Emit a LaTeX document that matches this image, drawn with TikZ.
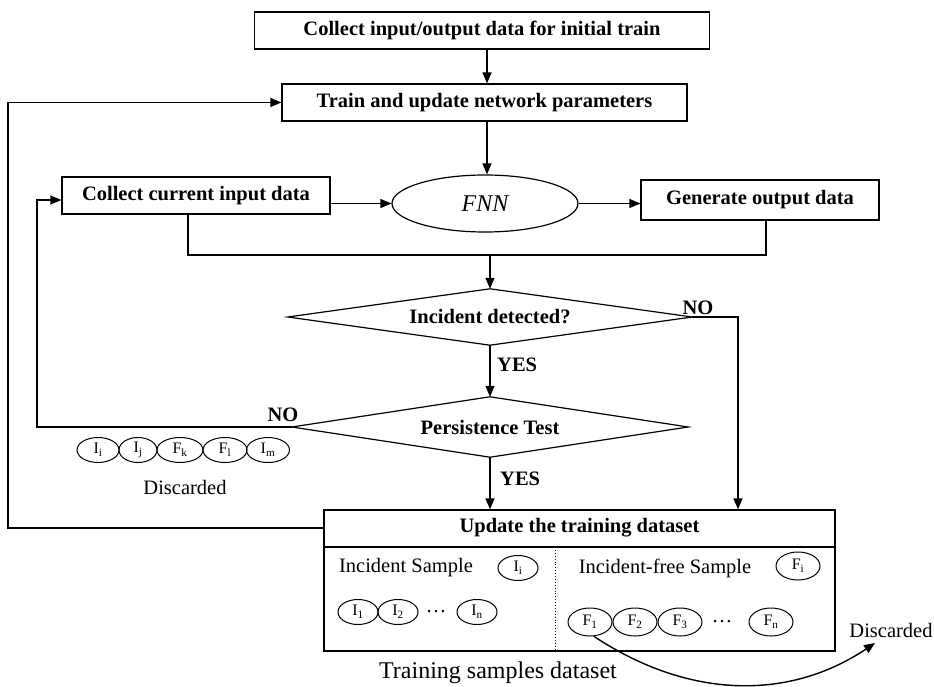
\documentclass[tikz,border=0pt]{standalone}
\usepackage{fontspec}
\setmainfont{Liberation Serif}
\usetikzlibrary{shapes.geometric,arrows.meta}
\newcommand\mybf{\fontsize{20.5}{24}\selectfont\bfseries}
\newcommand\myrm{\fontsize{20.5}{24}\selectfont}
\newcommand\mysm{\fontsize{16}{16}\selectfont}
\begin{document}
\begin{tikzpicture}[x=1pt,y=-1pt,
  box/.style={draw, rectangle, line width=1.2pt, inner sep=0pt, font=\mybf},
  dec/.style={rectangle, inner sep=0pt, font=\mybf},
  decline/.style={line width=1.2pt, line join=miter},
  lbl/.style={inner sep=0pt, font=\mybf},
  txt/.style={inner sep=0pt, font=\myrm},
  smp/.style={draw, ellipse, line width=1pt, inner sep=0pt, minimum width=42pt, minimum height=25pt, font=\mysm},
  fsmp/.style={smp, minimum width=44pt, minimum height=28pt},
  ln/.style={line width=1.2pt},
  arr/.style={line width=1.2pt, -{Triangle[length=11pt,width=9pt]}}]
\useasboundingbox (0,0) rectangle (934,687);

% boxes
\node[box, minimum width=455pt, minimum height=37pt] (b1) at (482,30.5) {Collect input/output data for initial train};
\node[box, minimum width=405pt, minimum height=37pt] (b2) at (484.5,102.5) {Train and update network parameters};
\node[box, minimum width=268pt, minimum height=37pt] (b3) at (196,195.5) {Collect current input data};
\node[draw, ellipse, line width=1.2pt, minimum width=186pt, minimum height=57pt, inner sep=0pt, font=\fontsize{24}{24}\selectfont\itshape] (fnn) at (485,203.5) {FNN};
\node[box, minimum width=238pt, minimum height=40pt] (b4) at (760,200) {Generate output data};

% decisions
\node[dec, minimum width=404pt, minimum height=56pt] (d1) at (490,317) {Incident detected?};
\draw[decline] (d1.west) -- (d1.north) -- (d1.east) -- (d1.south) -- cycle;
\node[dec, minimum width=396pt, minimum height=60pt] (d2) at (490,427) {Persistence Test};
\draw[decline] (d2.west) -- (d2.north) -- (d2.east) -- (d2.south) -- cycle;

% update box
\node[draw, rectangle, line width=1.2pt, minimum width=511pt, minimum height=141pt, inner sep=0pt] (upd) at (579.5,580.5) {};
\node[lbl] (hdr) at (579.5,528) {Update the training dataset};
\draw[ln] (upd.west |- 0,547) -- (upd.east |- 0,547);
\draw[dotted, line width=0.9pt] (555,547) -- (555,651);

\node[txt] (isam) at (406,568) {Incident Sample};
\node[smp, minimum width=40pt] (ii) at (518,568) {I\textsubscript{i}};
\node[smp, minimum width=40pt] (i1) at (358,612) {I\textsubscript{1}};
\node[smp, minimum width=40pt] (i2) at (398,612) {I\textsubscript{2}};
\node[txt] (idots) at (436,612) {\dots};
\node[smp, minimum width=40pt] (in) at (477,612) {I\textsubscript{n}};

\node[txt] (fsam) at (665,568) {Incident-free Sample};
\node[fsmp] (fi) at (798,566) {F\textsubscript{i}};
\node[fsmp] (f1) at (590,622) {F\textsubscript{1}};
\node[fsmp] (f2) at (635,622) {F\textsubscript{2}};
\node[fsmp] (f3) at (680,622) {F\textsubscript{3}};
\node[txt] (fdots) at (722,622) {\dots};
\node[fsmp] (fn) at (771,622) {F\textsubscript{n}};

\node[txt] (dis2) at (891,630) {Discarded};
\coordinate (tip) at (875,643);
\draw[arr, line width=1.4pt] (f1.-75) .. controls (690,700) and (790,700) .. (tip);

\node[inner sep=0pt, font=\fontsize{24}{24}\selectfont] (tsd) at (498,673) {Training samples dataset};

% discarded row
\node[smp] (di) at (98,450) {I\textsubscript{i}};
\node[smp, minimum width=38pt] (dj) at (138,450) {I\textsubscript{j}};
\node[smp, minimum width=46pt] (dk) at (180,450) {F\textsubscript{k}};
\node[smp, minimum width=44pt] (dl) at (225,450) {F\textsubscript{l}};
\node[smp, minimum width=43pt] (dm) at (268,450) {I\textsubscript{m}};
\node[txt] (dis1) at (185,487) {Discarded};

% labels
\node[lbl] (no1) at (698,308) {NO};
\node[lbl, anchor=west] (yes1) at (497,365) {YES};
\node[lbl] (no2) at (283,415) {NO};
\node[lbl, anchor=west] (yes2) at (500,479) {YES};

% connectors
\draw[arr] (b1.south -| 487,0) -- (b2.north -| 487,0);
\draw[arr] (b2.south -| 487,0) -- (fnn.north -| 487,0);
\draw[arr] (b3.east |- fnn.west) -- (fnn.west);
\draw[arr] (fnn.east) -- (fnn.east -| b4.west);
\coordinate (j) at (490,255);
\draw[ln] ([xshift=-8pt]b3.south) |- (j);
\draw[ln] ([xshift=6pt]b4.south) |- (j);
\draw[arr] (j) -- (d1.north);
\draw[arr] (d1.south) -- (d2.north);
\coordinate (nc) at (738,317);
\draw[arr] (d1.east) -- (nc) -- (nc |- upd.north);
\draw[arr] (d2.south) -- (d2.south |- upd.north);
\coordinate (l2) at (37,427);
\draw[arr] (d2.west) -- (l2) |- ([yshift=-4.5pt]b3.west);
\coordinate (l1) at (8,528);
\draw[arr] (upd.west |- l1) -- (l1) |- (b2.west);
\end{tikzpicture}
\end{document}
